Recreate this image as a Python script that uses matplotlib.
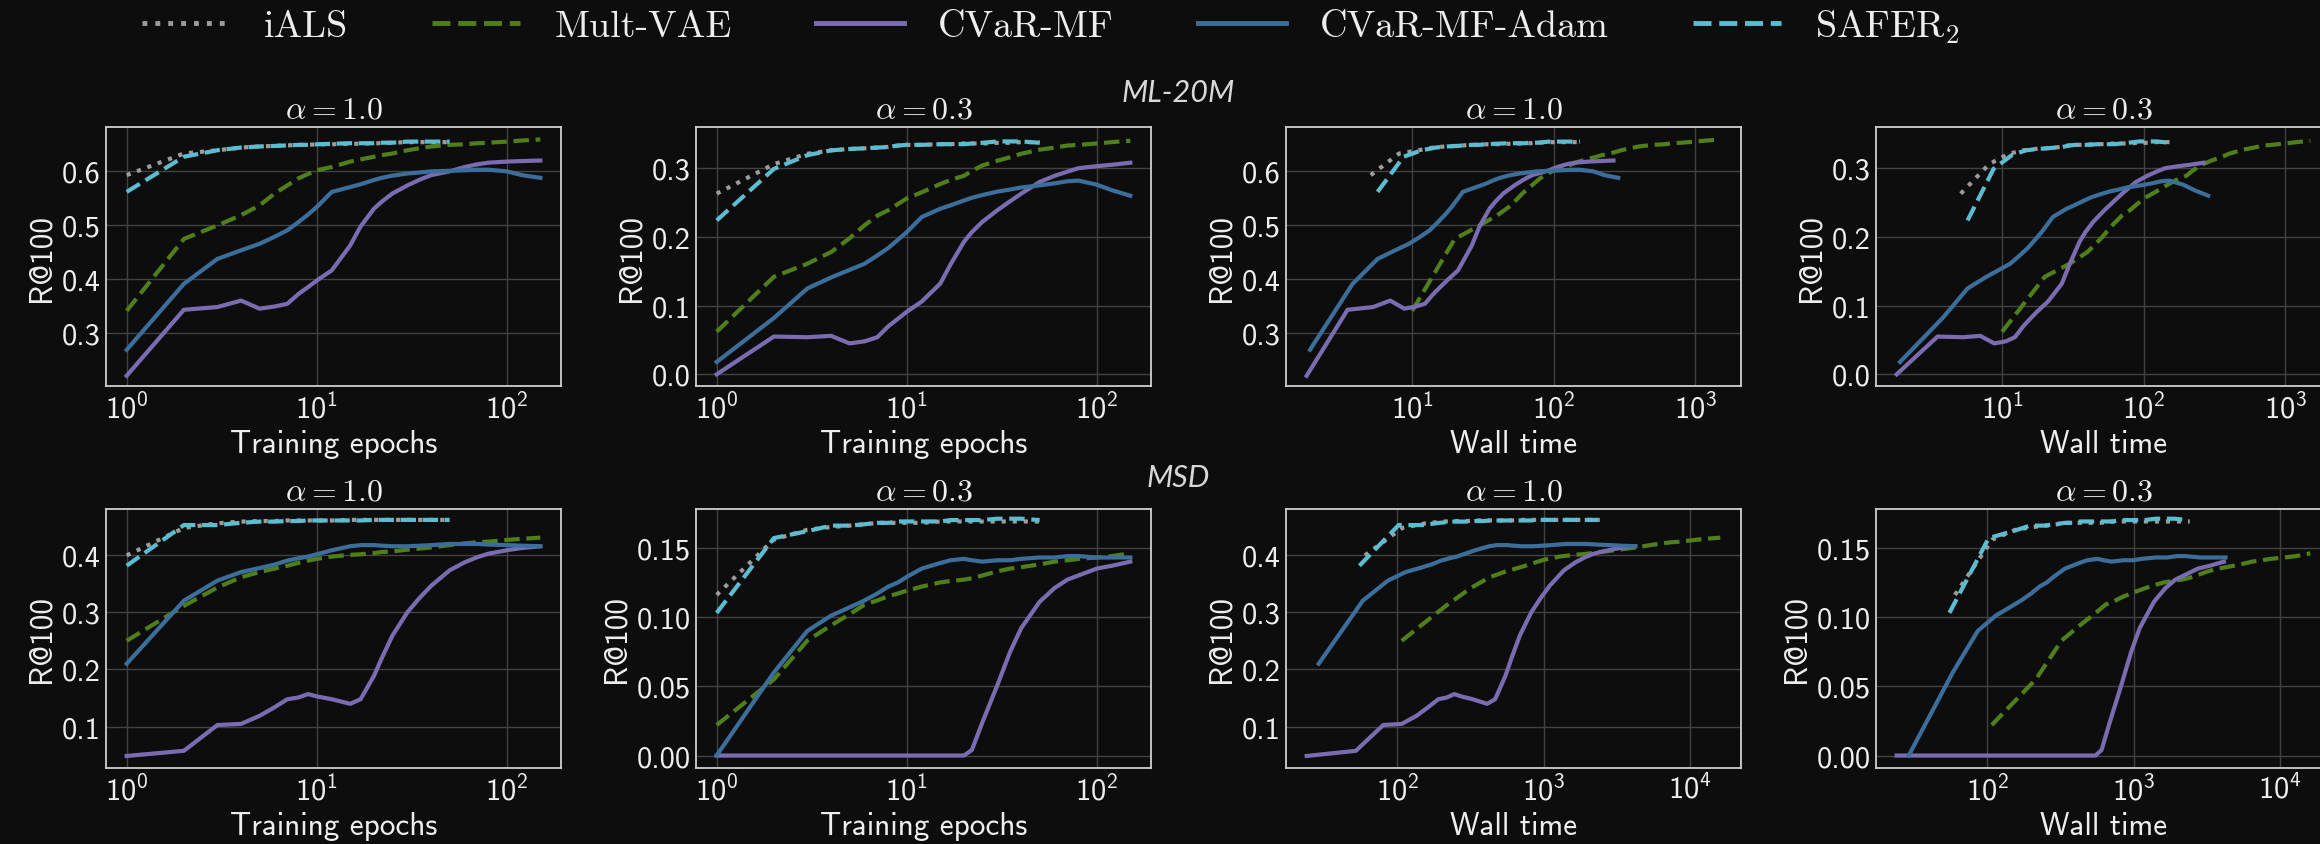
import numpy as np
import matplotlib
matplotlib.use('Agg')
import matplotlib.pyplot as plt
from matplotlib.ticker import FixedLocator, FormatStrFormatter
from matplotlib.lines import Line2D

#Logged epochs (iALS and SAFER2 stop after 50 epochs).
epochs = [1, 2, 3, 4, 5, 6, 7, 8, 9, 10, 12, 15, 17, 20, 22, 25, 30, 35, 40, 50, 60, 70, 80, 100, 120, 150]
epochs_short = [1, 2, 3, 4, 5, 6, 7, 8, 9, 10, 12, 15, 17, 20, 22, 25, 30, 35, 40, 50]

#ML-20M, alpha = 1.0 (R@100).
ml_a10_ials = [0.592, 0.632, 0.638, 0.643, 0.645, 0.646, 0.647, 0.648, 0.648, 0.649, 0.649, 0.650, 0.650, 0.651, 0.651, 0.652, 0.653, 0.653, 0.653, 0.653]
ml_a10_vae = [0.341, 0.474, 0.499, 0.518, 0.536, 0.558, 0.573, 0.586, 0.594, 0.601, 0.607, 0.617, 0.621, 0.626, 0.629, 0.632, 0.638, 0.642, 0.645, 0.648, 0.649, 0.651, 0.652, 0.654, 0.656, 0.658]
ml_a10_cvar = [0.221, 0.343, 0.348, 0.360, 0.345, 0.349, 0.354, 0.372, 0.385, 0.397, 0.416, 0.462, 0.497, 0.530, 0.543, 0.558, 0.573, 0.584, 0.592, 0.599, 0.607, 0.612, 0.615, 0.617, 0.618, 0.619]
ml_a10_adam = [0.269, 0.391, 0.437, 0.453, 0.465, 0.478, 0.490, 0.505, 0.519, 0.533, 0.561, 0.570, 0.575, 0.583, 0.587, 0.591, 0.595, 0.597, 0.599, 0.600, 0.601, 0.602, 0.602, 0.599, 0.592, 0.587]
ml_a10_safer = [0.561, 0.626, 0.638, 0.643, 0.645, 0.646, 0.647, 0.648, 0.648, 0.649, 0.650, 0.651, 0.651, 0.651, 0.652, 0.652, 0.654, 0.654, 0.654, 0.654]

#ML-20M, alpha = 0.3.
ml_a03_ials = [0.263, 0.306, 0.321, 0.326, 0.328, 0.329, 0.330, 0.331, 0.333, 0.334, 0.334, 0.335, 0.335, 0.336, 0.336, 0.336, 0.337, 0.337, 0.338, 0.338]
ml_a03_vae = [0.062, 0.142, 0.161, 0.178, 0.198, 0.217, 0.231, 0.239, 0.248, 0.256, 0.265, 0.277, 0.283, 0.289, 0.296, 0.304, 0.311, 0.316, 0.321, 0.327, 0.330, 0.333, 0.334, 0.336, 0.338, 0.340]
ml_a03_cvar = [0.000, 0.055, 0.054, 0.056, 0.045, 0.048, 0.054, 0.070, 0.081, 0.091, 0.106, 0.132, 0.160, 0.193, 0.207, 0.222, 0.239, 0.252, 0.263, 0.280, 0.289, 0.295, 0.300, 0.303, 0.305, 0.308]
ml_a03_adam = [0.018, 0.082, 0.125, 0.141, 0.152, 0.161, 0.173, 0.184, 0.196, 0.207, 0.229, 0.241, 0.246, 0.253, 0.257, 0.261, 0.266, 0.269, 0.272, 0.275, 0.278, 0.281, 0.282, 0.276, 0.268, 0.260]
ml_a03_safer = [0.224, 0.299, 0.319, 0.326, 0.328, 0.329, 0.330, 0.331, 0.333, 0.334, 0.334, 0.335, 0.335, 0.335, 0.336, 0.337, 0.339, 0.339, 0.339, 0.337]

#MSD, alpha = 1.0.
msd_a10_ials = [0.399, 0.447, 0.455, 0.458, 0.459, 0.459, 0.460, 0.460, 0.460, 0.460, 0.460, 0.461, 0.461, 0.461, 0.461, 0.461, 0.461, 0.461, 0.461, 0.461]
msd_a10_vae = [0.250, 0.311, 0.343, 0.361, 0.370, 0.376, 0.381, 0.386, 0.390, 0.393, 0.397, 0.400, 0.401, 0.403, 0.405, 0.406, 0.409, 0.411, 0.413, 0.417, 0.420, 0.422, 0.423, 0.426, 0.428, 0.430]
msd_a10_cvar = [0.049, 0.058, 0.103, 0.105, 0.119, 0.134, 0.148, 0.151, 0.157, 0.153, 0.148, 0.140, 0.148, 0.189, 0.220, 0.259, 0.300, 0.326, 0.346, 0.373, 0.387, 0.396, 0.402, 0.408, 0.412, 0.415]
msd_a10_adam = [0.210, 0.320, 0.355, 0.370, 0.377, 0.383, 0.390, 0.394, 0.397, 0.401, 0.408, 0.415, 0.417, 0.417, 0.416, 0.415, 0.415, 0.416, 0.417, 0.419, 0.419, 0.419, 0.418, 0.417, 0.416, 0.415]
msd_a10_safer = [0.381, 0.452, 0.452, 0.456, 0.458, 0.458, 0.459, 0.459, 0.460, 0.460, 0.460, 0.460, 0.460, 0.461, 0.461, 0.461, 0.461, 0.461, 0.461, 0.461]

#MSD, alpha = 0.3.
msd_a03_ials = [0.116, 0.156, 0.163, 0.165, 0.166, 0.167, 0.168, 0.168, 0.168, 0.168, 0.168, 0.169, 0.169, 0.169, 0.169, 0.169, 0.169, 0.169, 0.169, 0.169]
msd_a03_vae = [0.022, 0.055, 0.083, 0.094, 0.102, 0.109, 0.112, 0.115, 0.117, 0.119, 0.122, 0.125, 0.126, 0.127, 0.128, 0.130, 0.133, 0.135, 0.136, 0.138, 0.140, 0.141, 0.142, 0.143, 0.144, 0.146]
msd_a03_cvar = [0.000, 0.000, 0.000, 0.000, 0.000, 0.000, 0.000, 0.000, 0.000, 0.000, 0.000, 0.000, 0.000, 0.000, 0.004, 0.024, 0.051, 0.075, 0.092, 0.111, 0.121, 0.127, 0.130, 0.135, 0.137, 0.140]
msd_a03_adam = [0.000, 0.060, 0.090, 0.101, 0.107, 0.112, 0.117, 0.122, 0.125, 0.129, 0.135, 0.139, 0.141, 0.142, 0.141, 0.140, 0.141, 0.141, 0.142, 0.143, 0.143, 0.144, 0.144, 0.143, 0.143, 0.143]
msd_a03_safer = [0.103, 0.157, 0.162, 0.166, 0.166, 0.167, 0.168, 0.168, 0.169, 0.169, 0.169, 0.169, 0.170, 0.170, 0.170, 0.170, 0.171, 0.171, 0.171, 0.170]

#Wall time (seconds) at each logged epoch.
ml_time_ials = [5.1, 8.1, 11.1, 14.1, 17.1, 20.1, 23.1, 26.1, 29.1, 32.1, 38.1, 47.1, 53.1, 62.1, 68.1, 77.1, 92.1, 107, 122, 152]
ml_time_vae = [10, 20, 30, 40, 50, 60, 70, 80, 90, 100, 120, 150, 170, 200, 220, 250, 300, 350, 400, 500, 600, 700, 800, 1000, 1200, 1500]
ml_time_cvar = [1.8, 3.5, 5.3, 7.0, 8.8, 10.6, 12.3, 14.1, 15.8, 17.6, 21.1, 26.4, 29.9, 35.2, 38.7, 44, 52.8, 61.6, 70.4, 88, 106, 123, 141, 176, 211, 264]
ml_time_adam = [1.9, 3.8, 5.7, 7.6, 9.5, 11.4, 13.3, 15.2, 17.1, 19, 22.8, 28.5, 32.3, 38, 41.8, 47.5, 57, 66.5, 76, 95, 114, 133, 152, 190, 228, 285]
ml_time_safer = [5.7, 8.7, 11.7, 14.7, 17.7, 20.7, 23.7, 26.7, 29.7, 32.7, 38.7, 47.7, 53.7, 62.7, 68.7, 77.7, 92.7, 108, 123, 153]

msd_time_ials = [60, 108, 156, 204, 252, 300, 348, 396, 444, 492, 588, 732, 828, 972, 1068, 1212, 1452, 1692, 1932, 2412]
msd_time_vae = [107, 214, 321, 428, 535, 642, 749, 856, 963, 1070, 1284, 1605, 1819, 2140, 2354, 2675, 3210, 3745, 4280, 5350, 6420, 7490, 8560, 10700, 12840, 16050]
msd_time_cvar = [24, 52, 80, 107, 135, 162, 190, 217, 245, 272, 327, 410, 465, 547, 602, 685, 822, 960, 1097, 1372, 1647, 1922, 2197, 2747, 3297, 4122]
msd_time_adam = [29, 58, 86, 114, 142, 170, 199, 227, 255, 283, 339, 424, 480, 565, 621, 706, 847, 988, 1129, 1411, 1693, 1975, 2257, 2821, 3385, 4231]
msd_time_safer = [55, 102, 149, 196, 243, 290, 337, 384, 431, 478, 572, 713, 807, 948, 1042, 1183, 1418, 1653, 1888, 2358]

#Method names and line styles (same order as the legend).
names = ['iALS', 'Mult-VAE', 'CVaR-MF', 'CVaR-MF-Adam', r'SAFER$_2$']
colors = ['#9c9c9c', '#4e7f1b', '#7b6cb2', '#3c6e9b', '#5cbdd1']
styles = [':', '--', '-', '-', '--']

#Dark theme and Computer Modern style fonts.
bg = '#0d0d0d'
fg = '#eeeeee'
plt.rcParams.update({
    'font.family': 'cmss10',
    'mathtext.fontset': 'cm',
    'axes.unicode_minus': False,
    'axes.formatter.use_mathtext': True,
    'font.size': 20,
    'text.color': fg,
    'axes.labelcolor': fg,
    'xtick.color': fg,
    'ytick.color': fg,
})

fig = plt.figure(figsize=(23.2, 8.45), dpi=100, facecolor=bg)

#Axes boxes in pixels: left edges of the four columns, row bottoms.
#The last column runs past the right edge of the figure, as in the original.
W, H = 2320, 845
lefts = [106, 696, 1286, 1876]
bottoms = [387, 769]
ax_w, ax_h = 455, 259

#One entry per row: x data for the wall time panels and y data per alpha.
rows = [
    {'time': [ml_time_ials, ml_time_vae, ml_time_cvar, ml_time_adam, ml_time_safer],
     'a10': [ml_a10_ials, ml_a10_vae, ml_a10_cvar, ml_a10_adam, ml_a10_safer],
     'a03': [ml_a03_ials, ml_a03_vae, ml_a03_cvar, ml_a03_adam, ml_a03_safer],
     'lim10': (0.202, 0.681), 'lim03': (-0.017, 0.360),
     'ticks10': [0.3, 0.4, 0.5, 0.6], 'ticks03': [0.0, 0.1, 0.2, 0.3], 'fmt03': '%.1f'},
    {'time': [msd_time_ials, msd_time_vae, msd_time_cvar, msd_time_adam, msd_time_safer],
     'a10': [msd_a10_ials, msd_a10_vae, msd_a10_cvar, msd_a10_adam, msd_a10_safer],
     'a03': [msd_a03_ials, msd_a03_vae, msd_a03_cvar, msd_a03_adam, msd_a03_safer],
     'lim10': (0.028, 0.480), 'lim03': (-0.009, 0.178),
     'ticks10': [0.1, 0.2, 0.3, 0.4], 'ticks03': [0.0, 0.05, 0.10, 0.15], 'fmt03': '%.2f'},
]

for r, row in enumerate(rows):
    for c in range(4):
        ax = fig.add_axes([lefts[c] / W, 1 - bottoms[r] / H, ax_w / W, ax_h / H])
        ax.set_facecolor(bg)
        alpha_key = 'a10' if c in (0, 2) else 'a03'
        ys = row[alpha_key]
        for m in range(5):
            if c < 2:
                xs = epochs_short if m in (0, 4) else epochs
            else:
                xs = row['time'][m]
            ax.plot(xs, ys[m], color=colors[m], linestyle=styles[m], linewidth=3)
        ax.set_xscale('log')
        ax.set_ylim(row['lim10'] if alpha_key == 'a10' else row['lim03'])
        ax.yaxis.set_major_locator(FixedLocator(row['ticks10'] if alpha_key == 'a10' else row['ticks03']))
        ax.yaxis.set_major_formatter(FormatStrFormatter('%.1f' if alpha_key == 'a10' else row['fmt03']))
        ax.grid(True, which='major', color='#424242', linewidth=1.0)
        ax.tick_params(which='both', length=0, pad=4, labelsize=22)
        ax.minorticks_off()
        for s in ax.spines.values():
            s.set_color('#cfcfcf')
            s.set_linewidth(1.3)
        ax.set_title(r'$\alpha = 1.0$' if alpha_key == 'a10' else r'$\alpha = 0.3$', fontsize=23, color=fg, pad=7)
        ax.set_xlabel('Training epochs' if c < 2 else 'Wall time', fontsize=22.5, labelpad=4)
        ax.set_ylabel('R@100', fontsize=22.5, labelpad=4)

#Dataset names between the panel rows.
fig.text(0.508, 1 - 93 / H, 'ML-20M', fontsize=22, style='italic', family='Lato', ha='center', va='center', color='#d8d8d8')
fig.text(0.508, 1 - 478 / H, 'MSD', fontsize=22, style='italic', family='Lato', ha='center', va='center', color='#d8d8d8')

#Shared legend along the top.
handles = [Line2D([], [], color=colors[m], linestyle=styles[m], linewidth=3.5) for m in range(5)]
fig.legend(handles, names, loc='center', bbox_to_anchor=(0.453, 1 - 27 / H), ncol=5, frameon=False,
           prop={'family': 'cmr10', 'size': 27.5}, handlelength=2.3, handletextpad=0.9, columnspacing=2.2)

fig.savefig('out.png', dpi=100, facecolor=bg)
